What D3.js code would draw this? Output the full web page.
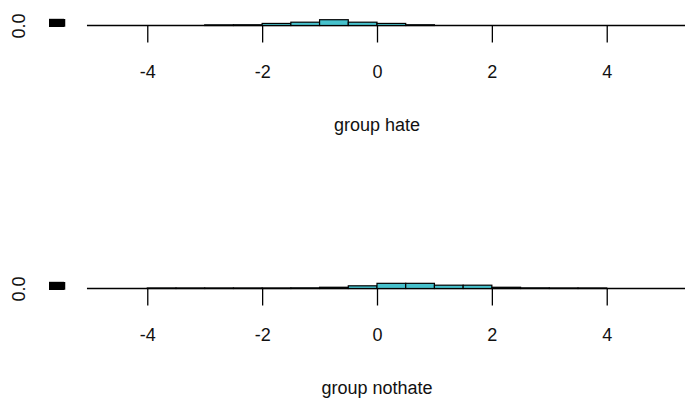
<!DOCTYPE html>
<html>
<head>
<meta charset="utf-8">
<script src="https://cdn.jsdelivr.net/npm/d3@7"></script>
<style>
  html, body { margin: 0; padding: 0; background: #fff; }
  svg { display: block; }
  text { font-family: "Liberation Sans", Arial, sans-serif; fill: #111; }
</style>
</head>
<body>
<svg id="chart" width="685" height="404"></svg>
<script>
// ---- data ----
const groups = ["hate", "nothate"];
const breaksHate = [-3, -2.5, -2, -1.5, -1, -0.5, 0, 0.5, 1];
const densityHate = [0.06, 0.07, 0.2, 0.32, 0.56, 0.32, 0.2, 0.07];
const breaksNothate = [-4, -3.5, -3, -2.5, -2, -1.5, -1, -0.5, 0, 0.5, 1, 1.5, 2, 2.5, 3, 3.5, 4];
const densityNothate = [0.05, 0.05, 0.05, 0.05, 0.05, 0.06, 0.12, 0.26, 0.5, 0.5, 0.32, 0.32, 0.12, 0.06, 0.05, 0.05];
const xTicks = [-4, -2, 0, 2, 4];
const yTicks = [0, 0.1, 0.2, 0.3, 0.4, 0.5, 0.6];
const xLimits = [-5.45, 5.45];
const yLimits = [0, 0.6];
const baseLineRange = [-5.05, 5.6];

const panels = [
  { name: groups[0], breaks: breaksHate, dens: densityHate, base: 25.5 },
  { name: groups[1], breaks: breaksNothate, dens: densityNothate, base: 288.5 }
];

const svg = d3.select("#chart");
const plotLeft = 64, plotRight = 690;
const x = d3.scaleLinear().domain(xLimits).range([plotLeft, plotRight]);
const fillCol = "#46c1cc";

panels.forEach(p => {
  const y = d3.scaleLinear().domain(yLimits).range([p.base, p.base - 6.2]);
  const g = svg.append("g");

  // baseline
  g.append("line")
    .attr("x1", x(baseLineRange[0])).attr("x2", x(baseLineRange[1]))
    .attr("y1", y(0)).attr("y2", y(0))
    .attr("stroke", "#000").attr("stroke-width", 1.4);

  // histogram bars
  const bins = p.dens.map((d, i) => ({ x0: p.breaks[i], x1: p.breaks[i + 1], d }));
  g.selectAll("rect.bar").data(bins).join("rect")
    .attr("class", "bar")
    .attr("x", b => x(b.x0))
    .attr("width", b => x(b.x1) - x(b.x0))
    .attr("y", b => y(b.d))
    .attr("height", b => y(0) - y(b.d))
    .attr("fill", fillCol)
    .attr("stroke", "#000")
    .attr("stroke-width", 1.2);

  // x axis
  const xAxis = d3.axisBottom(x).tickValues(xTicks).tickSize(17).tickFormat(d => String(d));
  const gx = g.append("g").attr("transform", `translate(0,${y(0)})`).call(xAxis);
  gx.select(".domain").remove();
  gx.selectAll(".tick line").attr("stroke", "#000").attr("stroke-width", 1.3);
  gx.selectAll(".tick text")
    .attr("y", 52).attr("dy", null)
    .style("font-size", "18px");

  // y axis
  const yAxis = d3.axisLeft(y).tickValues(yTicks).tickSize(15)
    .tickFormat(d => d === 0 ? "0.0" : "");
  const gy = g.append("g").attr("transform", `translate(${plotLeft},0)`).call(yAxis);
  gy.select(".domain").attr("stroke", "#000").attr("stroke-width", 1.5);
  gy.selectAll(".tick line").attr("stroke", "#000").attr("stroke-width", 2);
  gy.selectAll(".tick text")
    .attr("x", null).attr("dy", null)
    .attr("text-anchor", "middle")
    .attr("transform", `translate(${24.5 - plotLeft},0) rotate(-90)`)
    .style("font-size", "18px");

  // group title
  g.append("text")
    .attr("x", (plotLeft + plotRight) / 2)
    .attr("y", y(0) + 105)
    .attr("text-anchor", "middle")
    .style("font-size", "18px")
    .text("group " + p.name);
});
</script>
</body>
</html>
